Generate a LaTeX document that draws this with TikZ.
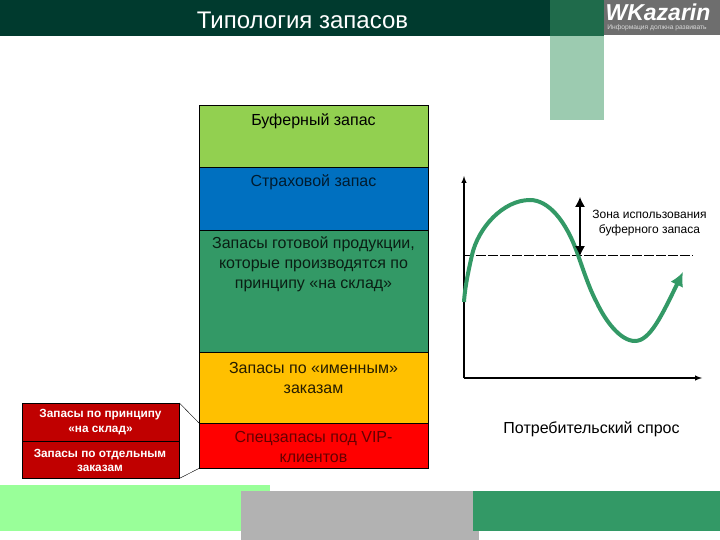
\documentclass[tikz,border=0pt]{standalone}
\usepackage{xcolor}
\usepackage{fontspec}
\setmainfont{Liberation Sans}
\usepackage{tikz}
\usetikzlibrary{arrows}
\usetikzlibrary{arrows.meta}
\usetikzlibrary{positioning}
\tikzset{>=latex}
\definecolor{bandcol}{HTML}{003A2E}
\definecolor{tabcol}{HTML}{1F6B4B}
\definecolor{palecol}{HTML}{9CCBB0}
\definecolor{logocol}{HTML}{6E6E6E}
\definecolor{lawncol}{HTML}{99FF99}
\definecolor{footcol}{HTML}{B2B2B2}
\definecolor{seacol}{HTML}{339966}
\definecolor{bufcol}{HTML}{92D050}
\definecolor{safecol}{HTML}{0070C0}
\definecolor{ambercol}{HTML}{FFC000}
\definecolor{brickcol}{HTML}{C00000}
\tikzstyle{flat} = [draw=none, anchor=north west, inner sep = 0]
\tikzstyle{stackbox} = [rectangle, draw=black, anchor=north west, inner sep = 0, minimum width = 229]
\tikzstyle{redbox} = [rectangle, draw=black, fill=brickcol, anchor=north west, inner sep = 0, minimum width = 157]
\tikzstyle{txt} = [draw=none, align=center, inner sep = 0, font=\fontsize{16}{20}\selectfont]
\tikzstyle{small} = [draw=none, align=center, inner sep = 0, text=white, font=\bfseries\fontsize{11.8}{14.5}\selectfont]
\begin{document}
\begin{tikzpicture}[x=1pt, y=-1pt]
\useasboundingbox (0,0) rectangle (720,540);
% header and footer bars
\node [flat, fill=bandcol, minimum width = 550, minimum height = 36] (band) at (0,0) {};
\node [flat, fill=palecol, minimum width = 54, minimum height = 120] (pale) at (550,0) {};
\node [flat, fill=tabcol, minimum width = 54, minimum height = 36] (tab) at (550,0) {};
\node [flat, fill=logocol, minimum width = 116, minimum height = 35] (logo) at (604,0) {};
\node [flat, fill=lawncol, minimum width = 270, minimum height = 46] (lawn) at (0,485) {};
\node [flat, fill=footcol, minimum width = 238, minimum height = 49] (foot) at (241,491) {};
\node [flat, fill=seacol, minimum width = 247, minimum height = 40] (sea) at (473,491) {};
\node [draw=none, inner sep = 0, text=white, font=\fontsize{24}{26}\selectfont] (title) at (302.5,20) {Типология запасов};
\node [draw=none, inner sep = 0, text=white, font=\bfseries\itshape\fontsize{23}{24}\selectfont] (brand) at (658,12) {WKazarin};
\node [draw=none, inner sep = 0, text=white!85!black, font=\fontsize{6.7}{8}\selectfont] (motto) at (657,28) {Информация должна развивать};
% stack of boxes
\node [stackbox, fill=bufcol, minimum height = 62] (buf) at (199,105) {};
\node [stackbox, fill=safecol, minimum height = 63] (safe) at (199,167) {};
\node [stackbox, fill=seacol, minimum height = 122] (ready) at (199,230) {};
\node [stackbox, fill=ambercol, minimum height = 71] (named) at (199,352) {};
\node [stackbox, fill=red, minimum height = 45] (vip) at (199,423) {};
\draw [-, draw = black, line width = 1.2] (ready.south west) to (ready.south east);
\node [txt] (buftxt) at (313.5,121) {Буферный запас};
\node [txt, text=safecol!25!black] (safetxt) at (313.5,182) {Страховой запас};
\node [txt, text=seacol!20!black] (readytxt) at (313.5,264) {Запасы готовой продукции,\\которые производятся по\\принципу «на склад»};
\node [txt, text=ambercol!15!black] (namedtxt) at (313.5,378) {Запасы по «именным»\\заказам};
\node [txt, text=red!40!black] (viptxt) at (313.5,447) {Спецзапасы под VIP-\\клиентов};
% red table
\node [redbox, minimum height = 38] (stock) at (22,403) {};
\node [redbox, minimum height = 37] (order) at (22,441) {};
\node [small] (stocktxt) at (100.5,422) {Запасы по принципу\\«на склад»};
\node [small] (ordertxt) at (100,460.5) {Запасы по отдельным\\заказам};
\draw [-, draw = black] (stock.north east) to (vip.north west);
\draw [-, draw = black] (order.south east) to (vip.south west);
% chart
\coordinate (orig) at (464,378);
\coordinate (ytop) at (464,176);
\coordinate (xend) at (702,378);
\coordinate (dashl) at (464,255);
\coordinate (dashr) at (693,255);
\coordinate (peak) at (580,197);
\coordinate (cross) at (580,256);
\draw [-latex, draw = black, line width = 1.4] (orig) to (ytop);
\draw [-latex, draw = black, line width = 1.4] (orig) to (xend);
\draw [draw = black, dash pattern = on 10 off 2] (dashl) to (dashr);
\draw [draw = seacol, line width = 4, -{Latex[length=14,width=14]}] (464,302) .. controls (465,285) and (470,264) .. (472,255) .. controls (478,228) and (503,200) .. (530,200) .. controls (548,200) and (566,220) .. (578,255) .. controls (585,275) and (590,290) .. (597,303) .. controls (605,320) and (620,341) .. (635,341) .. controls (650,341) and (662,315) .. (683,272);
\draw [{Latex[length=10,width=10]}-{Latex[length=10,width=10]}, draw = black, line width = 1.2] (peak) to (cross);
\node [draw=none, align=center, inner sep = 0, font=\fontsize{12}{14.5}\selectfont] (zone) at (649.5,223) {Зона использования\\буферного запаса};
\node [draw=none, align=center, inner sep = 0, font=\fontsize{16}{18}\selectfont] (demand) at (591.5,429) {Потребительский спрос};
\end{tikzpicture}
\end{document}
